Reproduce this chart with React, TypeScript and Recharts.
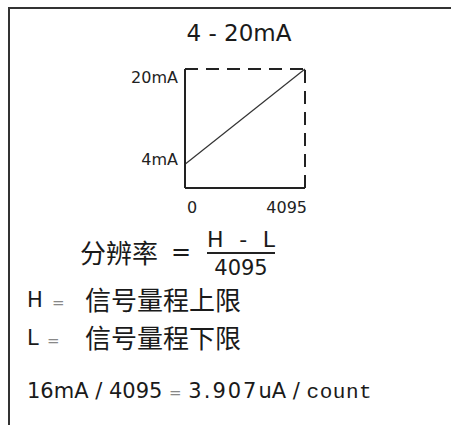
import React from 'react';
import {
  LineChart,
  Line,
  XAxis,
  YAxis,
  ReferenceLine,
} from 'recharts';

// 4-20mA transfer: counts 0..4095 -> current 4..20 mA
const counts = [0, 4095];
const current = [4, 20];
const xTicks = [0, 4095];
const yTicks = [4, 20];
const yTickLabels = ['4mA', '20mA'];

const data = counts.map((c, i) => ({ count: c, mA: current[i] }));

const SANS = '"DejaVu Sans", sans-serif';
const CJK = '"Noto Sans CJK SC", sans-serif';
const INK = '#1a1a1a';

const YTick = (props: any) => {
  const { x, y, payload } = props;
  const i = yTicks.indexOf(payload.value);
  const dy = payload.value === 20 ? 9 : -4;
  return (
    <text x={x} y={y + dy} textAnchor="end" dominantBaseline="middle" fill="#222" fontSize={16} fontFamily={SANS}>
      {yTickLabels[i]}
    </text>
  );
};

const XTick = (props: any) => {
  const { x, y, payload } = props;
  const first = payload.value === xTicks[0];
  return (
    <text x={x + 2} y={y} textAnchor={first ? 'start' : 'end'} dominantBaseline="middle" fill="#222" fontSize={16} fontFamily={SANS}>
      {payload.value}
    </text>
  );
};

const abs = (left: number, cy: number, fs: number, k = 0.48): React.CSSProperties => ({
  position: 'absolute',
  left,
  top: cy - fs * k,
  fontSize: fs,
  lineHeight: `${fs}px`,
  whiteSpace: 'nowrap',
  color: INK,
});

export default function App() {
  return (
    <div style={{ position: 'absolute', left: 0, top: 0, width: 451, height: 425, overflow: 'hidden', background: '#fff', fontFamily: SANS }}>
      <div style={{ position: 'absolute', left: 8, top: 7, width: 470, height: 440, borderTop: '2px solid #333', borderLeft: '2px solid #333' }} />

      <div style={{ ...abs(185, 33.5, 23), width: 108, textAlign: 'center' }}>4 - 20mA</div>

      <div style={{ position: 'absolute', left: 0, top: 0 }}>
        <LineChart width={451} height={425} data={data} margin={{ top: 69, right: 146, bottom: 207, left: 125 }}>
          <XAxis
            dataKey="count"
            type="number"
            domain={[0, 4095]}
            ticks={xTicks}
            tick={<XTick />}
            tickLine={false}
            tickSize={0}
            tickMargin={20}
            height={30}
            axisLine={{ stroke: '#222', strokeWidth: 2 }}
          />
          <YAxis
            type="number"
            domain={[0, 20]}
            ticks={yTicks}
            tick={<YTick />}
            tickLine={false}
            tickSize={0}
            tickMargin={7}
            width={60}
            axisLine={{ stroke: '#222', strokeWidth: 2 }}
          />
          <ReferenceLine y={20} stroke="#222" strokeWidth={2} strokeDasharray="13 8" />
          <ReferenceLine x={4095} stroke="#222" strokeWidth={2} strokeDasharray="13 8" />
          <Line dataKey="mA" stroke="#333" strokeWidth={1.2} dot={false} isAnimationActive={false} />
        </LineChart>
      </div>

      <div style={{ ...abs(80, 253, 26, 0.55), fontFamily: CJK }}>分辨率</div>
      <div style={{ ...abs(171, 252, 24) }}>=</div>
      <div style={{ ...abs(207, 240, 22), width: 68, display: 'flex', justifyContent: 'space-between' }}>
        <span>H</span><span>-</span><span>L</span>
      </div>
      <div style={{ position: 'absolute', left: 207, top: 252, width: 68, height: 2, background: '#222' }} />
      <div style={{ ...abs(207, 268, 21), width: 68, textAlign: 'center' }}>4095</div>

      <div style={{ ...abs(27, 300, 21) }}>H</div>
      <div style={{ ...abs(52, 303, 15), color: '#888' }}>=</div>
      <div style={{ ...abs(85, 300, 26, 0.55), fontFamily: CJK }}>信号量程上限</div>

      <div style={{ ...abs(27, 338, 21) }}>L</div>
      <div style={{ ...abs(47, 341, 15), color: '#888' }}>=</div>
      <div style={{ ...abs(85, 338, 26, 0.55), fontFamily: CJK }}>信号量程下限</div>

      <div style={{ ...abs(27, 391, 21) }}>
        16mA / 4095 <span style={{ color: '#888', fontSize: 15 }}>=</span>{' '}
        <span style={{ letterSpacing: 2 }}>3.907</span>uA / <span style={{ fontFamily: '"Liberation Mono", monospace', letterSpacing: 0.5 }}>count</span>
      </div>
    </div>
  );
}
